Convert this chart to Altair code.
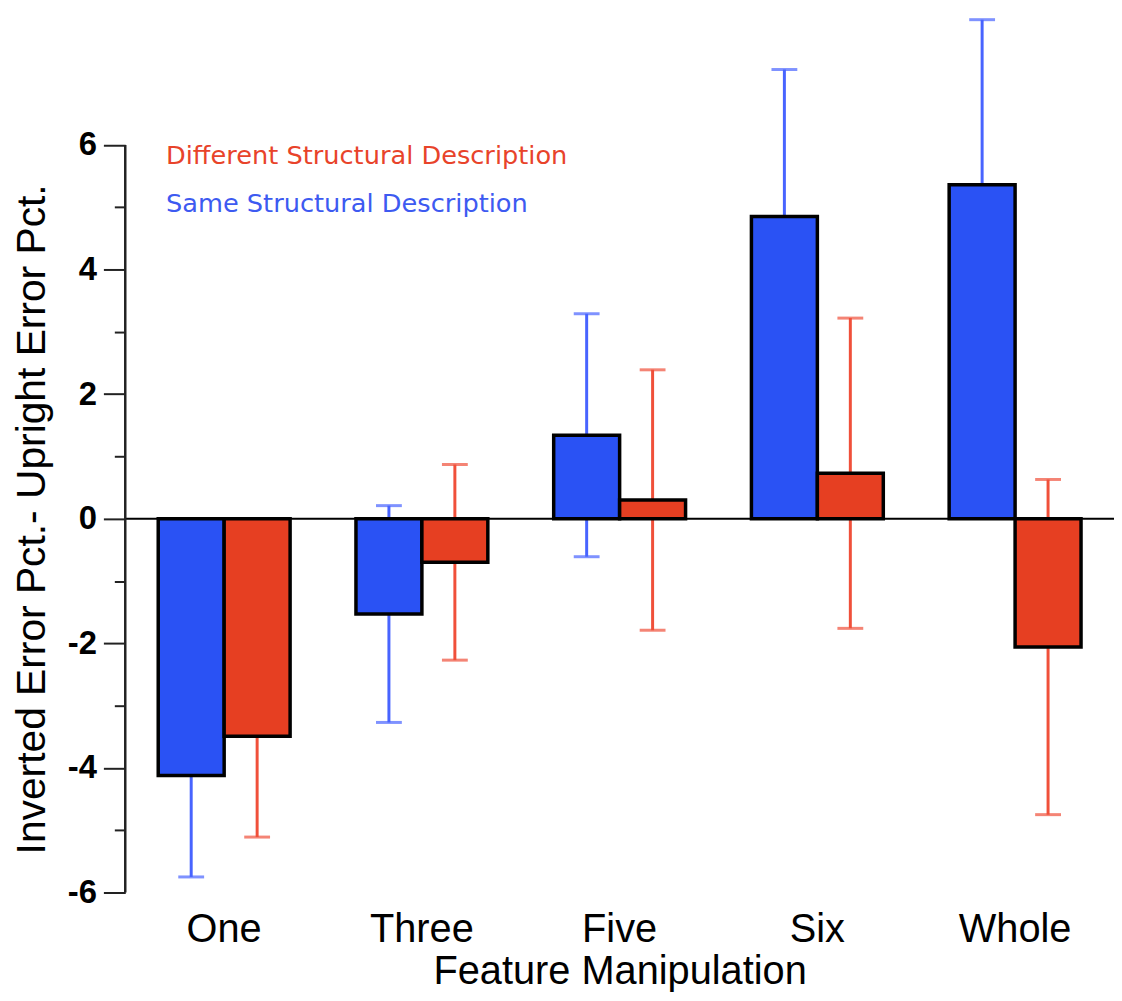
import altair as alt
import pandas as pd

categories = ["One", "Three", "Five", "Six", "Whole"]
series = ["Same Structural Description", "Different Structural Description"]
same_vals = [-4.12, -1.53, 1.34, 4.85, 5.36]
same_err = [1.63, 1.74, 1.95, 2.36, 2.65]
diff_vals = [-3.49, -0.70, 0.30, 0.73, -2.06]
diff_err = [1.62, 1.57, 2.09, 2.49, 2.69]
y_ticks = [-6, -5.5, -5, -4.5, -4, -3.5, -3, -2.5, -2, -1.5, -1, -0.5, 0,
           0.5, 1, 1.5, 2, 2.5, 3, 3.5, 4, 4.5, 5, 5.5, 6]

bar_colors = ["#2A52F4", "#E63F22"]
err_colors = ["#4864FF", "#F0503A"]
text_colors = ["#3D5AF1", "#E8432A"]

rows = []
for i, c in enumerate(categories):
    rows.append({"cat": c, "series": series[0], "v": same_vals[i],
                 "lo": same_vals[i] - same_err[i], "hi": same_vals[i] + same_err[i]})
    rows.append({"cat": c, "series": series[1], "v": diff_vals[i],
                 "lo": diff_vals[i] - diff_err[i], "hi": diff_vals[i] + diff_err[i]})
df = pd.DataFrame(rows)

W, H = 995, 884
FONT = "Liberation Sans, Arial, Helvetica"

yscale = alt.Scale(domain=[-6, 8.1], nice=False, zero=False)
xenc = alt.X("cat:N", sort=categories,
             scale=alt.Scale(paddingInner=0.333, paddingOuter=0.1667),
             axis=alt.Axis(title="Feature Manipulation", labelAngle=0, domain=False,
                           ticks=False, tickSize=0, labelPadding=17,
                           labelFontSize=40, labelFont=FONT, labelColor="black",
                           titleFontSize=40, titleFont=FONT, titleFontWeight="normal",
                           titleColor="black", titlePadding=3))
xoff = alt.XOffset("series:N", sort=series,
                   scale=alt.Scale(paddingInner=0, paddingOuter=0))

yaxis = alt.Axis(values=y_ticks, domain=False, grid=False,
                 tickSize={"condition": {"test": "datum.value % 2 === 0", "value": 22}, "value": 11},
                 tickColor="#222", tickWidth=2,
                 labelExpr="datum.value % 2 === 0 ? '' + datum.value : ''",
                 labelFontSize=33, labelFont=FONT, labelFontWeight="bold",
                 labelColor="black", labelPadding=7,
                 title="Inverted Error Pct.- Upright Error Pct.",
                 titleFontSize=41, titleFont=FONT, titleFontWeight="normal",
                 titleColor="black", titleY=508, titleX=-72)

base = alt.Chart(df)

err = base.mark_rule(strokeWidth=3).encode(
    x=xenc, xOffset=xoff,
    y=alt.Y("lo:Q", scale=yscale, axis=yaxis), y2="hi:Q",
    stroke=alt.Stroke("series:N", scale=alt.Scale(domain=series, range=err_colors), legend=None))

cap_lo = base.mark_tick(thickness=3, size=26).encode(
    x=xenc, xOffset=xoff, y=alt.Y("lo:Q", scale=yscale),
    color=alt.Color("series:N", scale=alt.Scale(domain=series, range=err_colors), legend=None))
cap_hi = base.mark_tick(thickness=3, size=26).encode(
    x=xenc, xOffset=xoff, y=alt.Y("hi:Q", scale=yscale),
    color=alt.Color("series:N", scale=alt.Scale(domain=series, range=err_colors), legend=None))

zero = alt.Chart(pd.DataFrame({"z": [0]})).mark_rule(color="black", strokeWidth=2).encode(
    y=alt.Y("z:Q", scale=yscale), x=alt.value(0), x2=alt.value(W + 4))

bars = base.mark_bar(stroke="black", strokeWidth=3.5).encode(
    x=xenc, xOffset=xoff,
    y=alt.Y("v:Q", scale=yscale), y2=alt.datum(0),
    fill=alt.Fill("series:N", scale=alt.Scale(domain=series, range=bar_colors), legend=None))

axis_line = alt.Chart(pd.DataFrame({"a": [-6], "b": [6]})).mark_rule(
    color="#222", strokeWidth=2.5).encode(
    y=alt.Y("a:Q", scale=yscale), y2="b:Q", x=alt.value(0))

leg_df = pd.DataFrame({"label": [series[1], series[0]], "ypix": [151, 199],
                       "series": [series[1], series[0]]})
legend = alt.Chart(leg_df).mark_text(align="left", baseline="alphabetic", fontSize=25.8,
                                     font="DejaVu Sans").encode(
    x=alt.value(41), y=alt.Y("ypix:Q", scale=None), text="label:N",
    color=alt.Color("series:N", scale=alt.Scale(domain=series, range=text_colors), legend=None))

chart = alt.layer(err, cap_lo, cap_hi, zero, bars, axis_line, legend).resolve_scale(
    color="independent").properties(
    width=W, height=H,
    autosize=alt.AutoSizeParams(type="none"),
    padding={"left": 118, "top": 3, "right": 0, "bottom": 98},
).configure_view(stroke=None)

chart.save("out.html", embed_options={"renderer": "svg", "actions": False})
